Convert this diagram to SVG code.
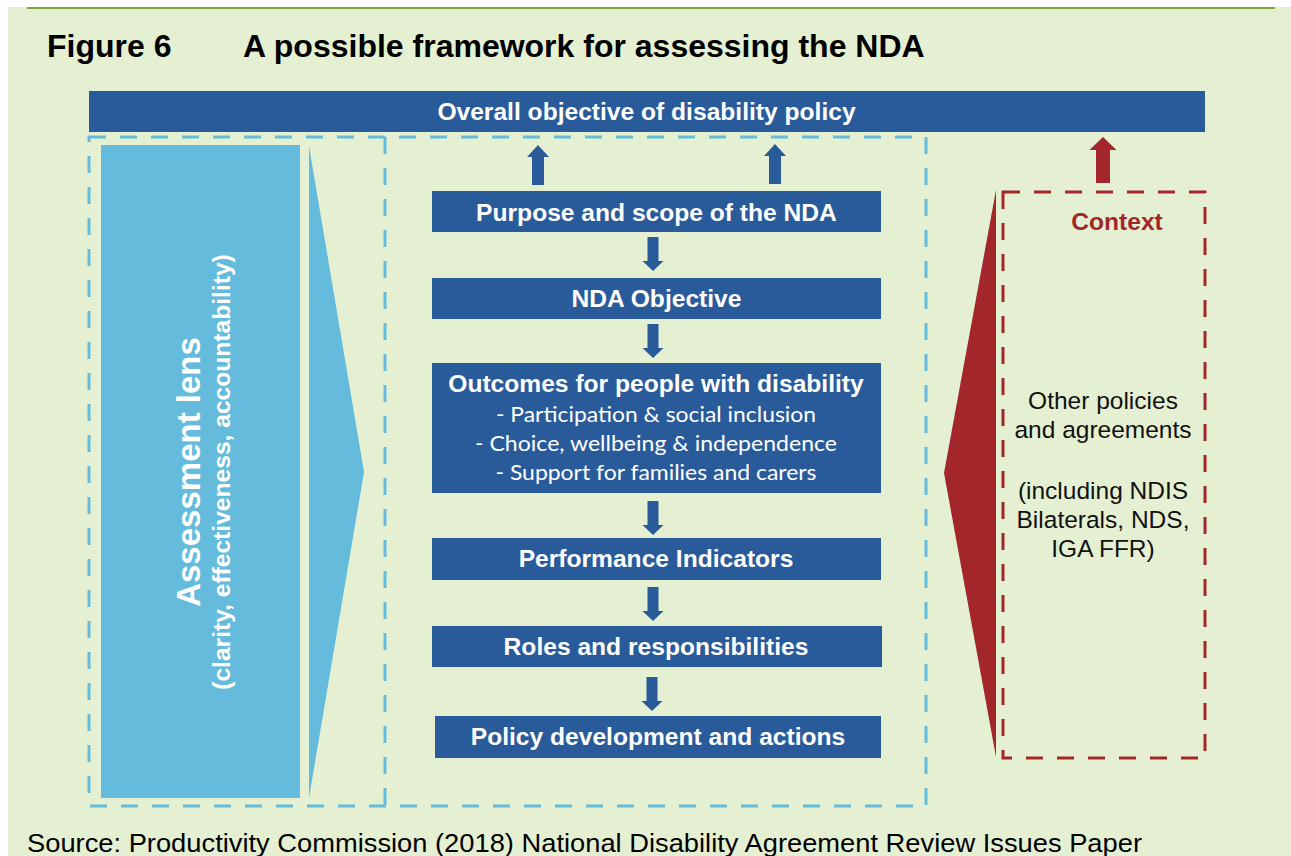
<svg xmlns="http://www.w3.org/2000/svg" width="1291" height="856" viewBox="0 0 1291 856">
  <style>
    .bg { fill: #E5F0D3; }
    .dark { fill: #295B9A; }
    .light { fill: #65BBDB; }
    .red { fill: #A3272A; }
    .box-text { font-family: "Liberation Sans", Arial, sans-serif; font-weight: bold; font-size: 24.6px; fill: #FFFFFF; text-anchor: middle; }
    .lens-title { font-size: 33px; }
    .bullet { font-family: Lato, "Liberation Sans", sans-serif; font-size: 22px; fill: #FFFFFF; text-anchor: middle; }
    .body { font-family: "Liberation Sans", Arial, sans-serif; font-size: 24.5px; fill: #111111; text-anchor: middle; }
    .context-title { fill: #A3272A; }
    .dash-blue { fill: none; stroke: #65BBDB; stroke-width: 3; stroke-dasharray: 17 14; }
    .dash-red { fill: none; stroke: #A3272A; stroke-width: 3; stroke-dasharray: 17 14; }
  </style>
  <defs>
    <!-- block arrow pointing down, origin at top centre of the shaft -->
    <path id="arrow-down" d="M-5.5,0 H5.5 V24 H10.5 L0,34 L-10.5,24 H-5.5 Z"/>
    <!-- block arrow pointing up, origin at the tip -->
    <path id="arrow-up" d="M0,0 L11,12 H6 V40 H-6 V12 H-11 Z"/>
  </defs>

  <!-- page background and rule -->
  <rect x="0" y="0" width="1291" height="856" fill="#FFFFFF"/>
  <rect class="bg" x="8" y="7" width="1283" height="849"/>
  <rect x="27" y="7" width="1248" height="2" fill="#7EA83A"/>

  <g id="title" font-family="'Liberation Sans', Arial, sans-serif" font-weight="bold" font-size="32" fill="#000000">
    <text x="47" y="57">Figure 6</text>
    <text x="243" y="57">A possible framework for assessing the NDA</text>
  </g>

  <g id="overall-objective">
    <rect class="dark" x="89" y="91" width="1116" height="41"/>
    <text class="box-text" x="646.5" y="120">Overall objective of disability policy</text>
  </g>

  <!-- dashed frames around the lens and the NDA chain -->
  <g id="frames">
    <rect class="dash-blue" x="89" y="137" width="837" height="669"/>
    <line class="dash-blue" x1="385" y1="137" x2="385" y2="806"/>
  </g>

  <g id="assessment-lens">
    <rect class="light" x="101" y="145" width="199" height="653"/>
    <polygon class="light" points="309,146 364,472 309,798"/>
    <text class="box-text lens-title" transform="translate(200,472) rotate(-90)">Assessment lens</text>
    <text class="box-text" transform="translate(230,472) rotate(-90)">(clarity, effectiveness, accountability)</text>
  </g>

  <g id="purpose">
    <rect class="dark" x="432" y="191" width="449" height="41"/>
    <text class="box-text" x="656.5" y="221">Purpose and scope of the NDA</text>
  </g>

  <g id="nda-objective">
    <rect class="dark" x="432" y="278" width="449" height="41"/>
    <text class="box-text" x="656.5" y="307">NDA Objective</text>
  </g>

  <g id="outcomes">
    <rect class="dark" x="432" y="363" width="449" height="130"/>
    <text class="box-text" x="656" y="392">Outcomes for people with disability</text>
    <text class="bullet" x="656" y="422" textLength="320" lengthAdjust="spacingAndGlyphs">- Participation &amp; social inclusion</text>
    <text class="bullet" x="656" y="451" textLength="362" lengthAdjust="spacingAndGlyphs">- Choice, wellbeing &amp; independence</text>
    <text class="bullet" x="656" y="480" textLength="321" lengthAdjust="spacingAndGlyphs">- Support for families and carers</text>
  </g>

  <g id="performance-indicators">
    <rect class="dark" x="432" y="538" width="449" height="42"/>
    <text class="box-text" x="656" y="567">Performance Indicators</text>
  </g>

  <g id="roles">
    <rect class="dark" x="432" y="626" width="450" height="41"/>
    <text class="box-text" x="656" y="655">Roles and responsibilities</text>
  </g>

  <g id="policy-development">
    <rect class="dark" x="435" y="716" width="446" height="42"/>
    <text class="box-text" x="658" y="745">Policy development and actions</text>
  </g>

  <g id="context">
    <polygon class="red" points="996,190 944,473 996,757"/>
    <rect class="dash-red" x="1003" y="192" width="202" height="566"/>
    <text class="box-text context-title" x="1117" y="230">Context</text>
    <text class="body" x="1103" y="409">Other policies</text>
    <text class="body" x="1103" y="438">and agreements</text>
    <text class="body" x="1103" y="499">(including NDIS</text>
    <text class="body" x="1103" y="528">Bilaterals, NDS,</text>
    <text class="body" x="1103" y="557">IGA FFR)</text>
  </g>

  <g id="connectors">
    <use href="#arrow-up" class="dark" x="538" y="145"/>
    <use href="#arrow-up" class="dark" x="775" y="144"/>
    <use href="#arrow-down" class="dark" x="653" y="237"/>
    <use href="#arrow-down" class="dark" x="653" y="324"/>
    <use href="#arrow-down" class="dark" x="653" y="501"/>
    <use href="#arrow-down" class="dark" x="653" y="587"/>
    <use href="#arrow-down" class="dark" x="652" y="677"/>
    <path class="red" d="M1103,137 L1116.5,150 H1110 V183 H1096 V150 H1089.5 Z"/>
  </g>

  <text id="source" x="27" y="852" font-family="'Liberation Sans', Arial, sans-serif" font-size="25" fill="#000000" textLength="1115" lengthAdjust="spacingAndGlyphs">Source: Productivity Commission (2018) National Disability Agreement Review Issues Paper</text>
</svg>
